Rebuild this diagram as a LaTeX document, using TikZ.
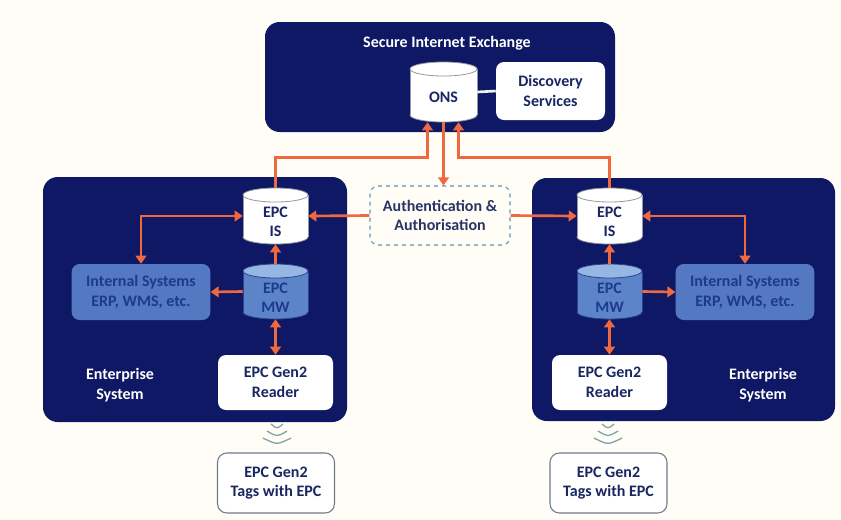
\documentclass[tikz,border=0pt]{standalone}
\usepackage{fontspec}
\setmainfont{Carlito}
\usetikzlibrary{arrows.meta,calc}
\definecolor{bg}{RGB}{255,253,246}
\definecolor{navy}{RGB}{14,24,100}
\definecolor{orng}{RGB}{240,104,62}
\definecolor{midblue}{RGB}{84,120,194}
\definecolor{mwbody}{RGB}{92,132,200}
\definecolor{mwtop}{RGB}{150,182,228}
\definecolor{darktext}{RGB}{24,38,98}
\definecolor{inttext}{RGB}{30,58,140}
\definecolor{dashc}{RGB}{95,150,185}
\definecolor{tagc}{RGB}{110,125,140}
\definecolor{wavec}{RGB}{130,165,175}
\definecolor{cylline}{RGB}{150,150,160}
\newcommand\drawcyl[7]{%
 \pgfmathsetmacro\cx{(#1+#3)/2}\pgfmathsetmacro\rx{(#3-#1)/2}%
 \filldraw[fill=#5,draw=#7,line width=0.6pt] (\cx,{#4-7}) ellipse[x radius=\rx,y radius=7];
 \fill[#5] (#1,{#2+7}) rectangle (#3,{#4-7});
 \draw[#7,line width=0.6pt] (#1,{#2+7}) -- (#1,{#4-7}) (#3,{#2+7}) -- (#3,{#4-7});
 \filldraw[fill=#6,draw=#7,line width=0.6pt] (\cx,{#2+7}) ellipse[x radius=\rx,y radius=7];
}
\newcommand\wave[2]{%
 \draw[wavec,line width=1pt] ({#1-6},{#2}) .. controls (#1,{#2+5}) .. ({#1+6},{#2});
 \draw[wavec,line width=1pt] ({#1-10},{#2+7}) .. controls (#1,{#2+13}) .. ({#1+10},{#2+7});
 \draw[wavec,line width=1pt] ({#1-14},{#2+14}) .. controls (#1,{#2+21}) .. ({#1+14},{#2+14});
}
\tikzset{
 arr/.style={draw=orng,line width=2pt,-{Triangle[width=8pt,length=6pt]}},
 darr/.style={draw=orng,line width=2pt,{Triangle[width=8pt,length=6pt]}-{Triangle[width=8pt,length=6pt]}},
 area/.style={inner sep=0,draw=none},
 whitebox/.style={fill=white,rounded corners=6pt,inner sep=0,text=darktext,align=center},
 intbox/.style={fill=midblue,rounded corners=6pt,inner sep=0,text=inttext,align=center,minimum width=104pt,minimum height=42pt},
 tagbox/.style={fill=white,draw=tagc,line width=0.8pt,rounded corners=7pt,inner sep=0,text=darktext,align=center,minimum width=87.75pt,minimum height=45pt},
 titletext/.style={text=white,align=center},
}
\begin{document}
\begin{tikzpicture}[x=0.75pt,y=-0.75pt,font=\fontsize{12}{14.6}\selectfont\bfseries]
\fill[bg] (0,0) rectangle (841,519);
\useasboundingbox (0,0) rectangle (841,519);

% big navy panels
\fill[navy,rounded corners=11pt] (265,22) rectangle (615,132);
\fill[navy,rounded corners=11pt] (43,177) rectangle (347,422);
\fill[navy,rounded corners=11pt] (532,178) rectangle (835,421);

\node[titletext] (sietitle) at (447,43) {Secure Internet Exchange};
\node[titletext] (entL) at (120,385) {Enterprise\\System};
\node[titletext] (entR) at (763,385) {Enterprise\\System};

% cylinders
\drawcyl{410}{62}{477}{122}{white}{white}{cylline}
\node[area,minimum width=50.25pt,minimum height=45pt] (ons) at (443.5,92) {};
\node[text=darktext] (onst) at (443.5,97) {ONS};

\drawcyl{243}{188}{308}{244}{white}{white}{cylline}
\node[area,minimum width=48.75pt,minimum height=42pt] (isL) at (275.5,216) {};
\node[text=darktext,align=center] (isLt) at (275.5,222) {EPC\\IS};

\drawcyl{577}{188}{642}{244}{white}{white}{cylline}
\node[area,minimum width=48.75pt,minimum height=42pt] (isR) at (609.5,216) {};
\node[text=darktext,align=center] (isRt) at (609.5,222) {EPC\\IS};

\drawcyl{243}{264}{308}{319}{mwbody}{mwtop}{navy!60!mwbody}
\node[area,minimum width=48.75pt,minimum height=41.25pt] (mwL) at (275.5,291.5) {};
\node[text=inttext,align=center] (mwLt) at (275.5,298) {EPC\\MW};

\drawcyl{577}{264}{642}{319}{mwbody}{mwtop}{navy!60!mwbody}
\node[area,minimum width=48.75pt,minimum height=41.25pt] (mwR) at (609.5,291.5) {};
\node[text=inttext,align=center] (mwRt) at (609.5,298) {EPC\\MW};

% boxes
\node[whitebox,minimum width=81.75pt,minimum height=43.5pt] (disc) at (550.5,91) {Discovery\\Services};
\node[intbox] (intL) at (141,292) {Internal Systems\\ERP, WMS, etc.};
\node[intbox] (intR) at (745,292) {Internal Systems\\ERP, WMS, etc.};
\node[whitebox,minimum width=86.25pt,minimum height=41.25pt] (rdL) at (275.5,382.5) {EPC Gen2\\Reader};
\node[whitebox,minimum width=86.25pt,minimum height=41.25pt] (rdR) at (609.5,382.5) {EPC Gen2\\Reader};
\node[tagbox] (tagL) at (276,483) {EPC Gen2\\Tags with EPC};
\node[tagbox] (tagR) at (608.5,483) {EPC Gen2\\Tags with EPC};
\node[fill=bg,draw=dashc,dashed,line width=0.8pt,rounded corners=6pt,inner sep=0,
      minimum width=105pt,minimum height=44.25pt,text=darktext!85!gray,align=center] (auth) at (440,215.5)
      {Authentication \&\\Authorisation};

% wireless symbols
\wave{277}{424}
\wave{608}{424}

% connectors
\draw[white!88!gray,line width=2pt] (ons.east) -- (disc.west);
\draw[arr] (isL.north) |- ($(ons.south)+(-16,35)$) -- ($(ons.south)+(-16,0)$);
\draw[arr] (isR.north) |- ($(ons.south)+(15,35)$) -- ($(ons.south)+(15,0)$);
\draw[arr] (ons.south) -- (ons.south |- auth.north);
\draw[arr] (auth.west) -- (isL.east);
\draw[arr] (auth.east) -- (isR.east -| isR.west);
\draw[darr] (isL.west) -| (intL.north);
\draw[darr] (isR.east) -| (intR.north);
\draw[arr] (mwL.north) -- (isL.south);
\draw[arr] (mwR.north) -- (isR.south);
\draw[arr] (mwL.west) -- (intL.east);
\draw[arr] (mwR.east) -- (intR.west);
\draw[darr] (mwL.south) -- (rdL.north);
\draw[darr] (mwR.south) -- (rdR.north);
\end{tikzpicture}
\end{document}
